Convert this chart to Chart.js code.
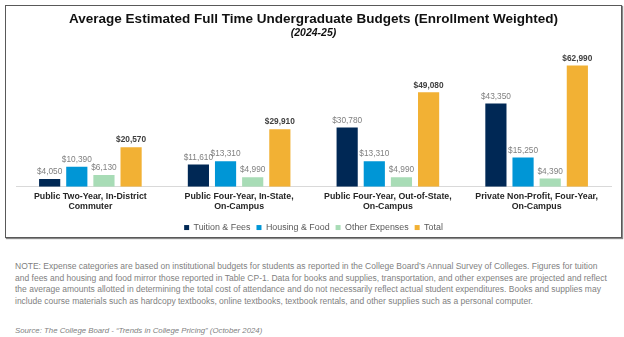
<!DOCTYPE html>
<html>
<head>
<meta charset="utf-8">
<script src="https://cdn.jsdelivr.net/npm/chart.js@4.4.0/dist/chart.umd.min.js"></script>
<style>
  body { margin: 0; background: #fff; font-family: "Liberation Sans", Arial, sans-serif; }
  #box { position: absolute; left: 5px; top: 5px; width: 615px; height: 231px; border: 1px solid #595959; box-shadow: 1px 1px 1px #888; }
  #wrap { position: absolute; left: 0; top: 0; width: 624px; height: 242px; }
  #note { position: absolute; left: 15px; top: 261px; font-size: 8.5px; line-height: 11.5px; color: #7f7f7f; white-space: nowrap; }
  #source { position: absolute; left: 15px; top: 326px; font-size: 7.8px; font-style: italic; color: #7f7f7f; white-space: nowrap; }
</style>
</head>
<body>
<div id="box"></div>
<div id="wrap"><canvas id="graphCanvas"></canvas></div>
<div id="note">NOTE: Expense categories are based on institutional budgets for students as reported in the College Board’s Annual Survey of Colleges. Figures for tuition<br>and fees and housing and food mirror those reported in Table CP-1. Data for books and supplies, transportation, and other expenses are projected and reflect<br>the average amounts allotted in determining the total cost of attendance and do not necessarily reflect actual student expenditures. Books and supplies may<br>include course materials such as hardcopy textbooks, online textbooks, textbook rentals, and other supplies such as a personal computer.</div>
<div id="source">Source: The College Board - “Trends in College Pricing” (October 2024)</div>
<script>
// budget types (x axis)
var categories = [
  ['Public Two-Year, In-District', 'Commuter'],
  ['Public Four-Year, In-State,', 'On-Campus'],
  ['Public Four-Year, Out-of-State,', 'On-Campus'],
  ['Private Non-Profit, Four-Year,', 'On-Campus']
];
var tuitionFees = [4050, 11610, 30780, 43350];
var housingFood = [10390, 13310, 13310, 15250];
var otherExpenses = [6130, 4990, 4990, 4390];
var total = [20570, 29910, 49080, 62990];

/**
* Etiquettes de valeur au-dessus des barres
*/
var barLabels = {
  id: 'barLabels',
  afterDatasetsDraw: function (chart) {
    var ctx = chart.ctx;
    ctx.save();
    ctx.textAlign = 'center';
    ctx.textBaseline = 'bottom';
    chart.data.datasets.forEach(function (ds, i) {
      var meta = chart.getDatasetMeta(i);
      var isTotal = ds.label === 'Total';
      ctx.font = (isTotal ? 'bold ' : '') + '8.3px "Liberation Sans", Arial, sans-serif';
      ctx.fillStyle = isTotal ? '#404040' : '#808080';
      meta.data.forEach(function (bar, j) {
        ctx.fillText('$' + ds.data[j].toLocaleString('en-US'), bar.x, bar.y - 3);
      });
    });
    ctx.restore();
  }
};

var chartdata = {
  labels: categories,
  datasets: [
    { label: 'Tuition & Fees', backgroundColor: '#002855', borderWidth: 0, data: tuitionFees },
    { label: 'Housing & Food', backgroundColor: '#0096D6', borderWidth: 0, data: housingFood },
    { label: 'Other Expenses', backgroundColor: '#A8DCB6', borderWidth: 0, data: otherExpenses },
    { label: 'Total', backgroundColor: '#F2B134', borderWidth: 0, data: total }
  ]
};

var font = '"Liberation Sans", Arial, sans-serif';

new Chart(document.getElementById('graphCanvas'), {
  type: 'bar',
  data: chartdata,
  plugins: [barLabels],
  options: {
    responsive: true,
    maintainAspectRatio: false,
    animation: false,
    layout: { padding: { left: 16, right: 13, top: 0, bottom: 0 } },
    datasets: { bar: { categoryPercentage: 0.73, barPercentage: 0.78 } },
    scales: {
      x: {
        grid: { display: false, drawTicks: false },
        border: { display: true, color: '#d9d9d9', width: 1 },
        ticks: {
          padding: 5,
          maxRotation: 0,
          autoSkip: false,
          color: '#262626',
          font: { family: font, size: 8.8, weight: 'bold', lineHeight: 1.15 }
        }
      },
      y: { display: false, min: 0, max: 70000 }
    },
    plugins: {
      title: {
        display: true,
        text: 'Average Estimated Full Time Undergraduate Budgets (Enrollment Weighted)',
        color: '#111',
        font: { family: font, size: 13.5, weight: 'bold', lineHeight: 1 },
        padding: { top: 13, bottom: 0 }
      },
      subtitle: {
        display: true,
        text: '(2024-25)',
        color: '#111',
        font: { family: font, size: 10.5, weight: 'bold', style: 'italic', lineHeight: 1.2 },
        padding: { top: 0, bottom: 13 }
      },
      legend: {
        position: 'bottom',
        labels: {
          boxWidth: 5,
          boxHeight: 5,
          padding: 6,
          color: '#595959',
          font: { family: font, size: 8.9 }
        }
      },
      tooltip: { enabled: false }
    }
  }
});
</script>
</body>
</html>
